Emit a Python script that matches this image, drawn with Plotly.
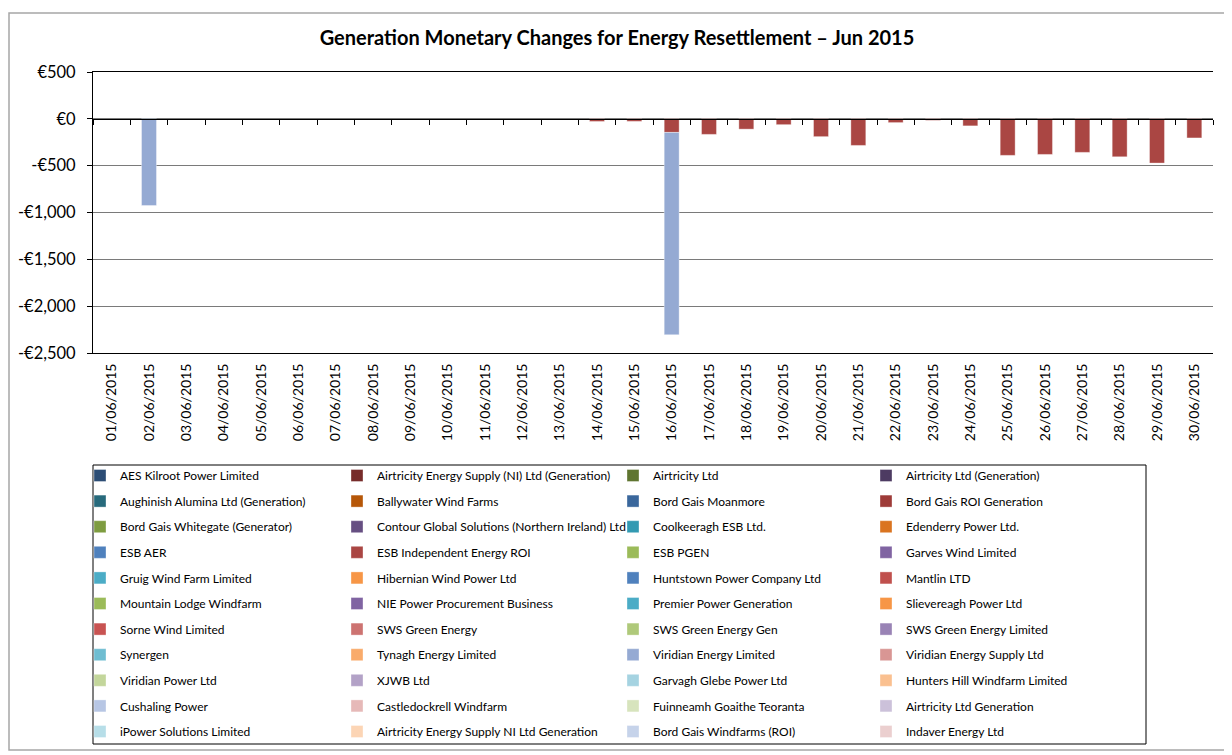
import plotly.graph_objects as go

# ---------------- data ----------------
dates = ["%02d/06/2015" % d for d in range(1, 31)]

series_names = [
    "AES Kilroot Power Limited", "Airtricity Energy Supply (NI) Ltd (Generation)", "Airtricity Ltd", "Airtricity Ltd (Generation)",
    "Aughinish Alumina Ltd (Generation)", "Ballywater Wind Farms", "Bord Gais Moanmore", "Bord Gais ROI Generation",
    "Bord Gais Whitegate (Generator)", "Contour Global Solutions (Northern Ireland) Ltd", "Coolkeeragh ESB Ltd.", "Edenderry Power Ltd.",
    "ESB AER", "ESB Independent Energy ROI", "ESB PGEN", "Garves Wind Limited",
    "Gruig Wind Farm Limited", "Hibernian Wind Power Ltd", "Huntstown Power Company Ltd", "Mantlin LTD",
    "Mountain Lodge Windfarm", "NIE Power Procurement Business", "Premier Power Generation", "Slievereagh Power Ltd",
    "Sorne Wind Limited", "SWS Green Energy", "SWS Green Energy Gen", "SWS Green Energy Limited",
    "Synergen", "Tynagh Energy Limited", "Viridian Energy Limited", "Viridian Energy Supply Ltd",
    "Viridian Power Ltd", "XJWB Ltd", "Garvagh Glebe Power Ltd", "Hunters Hill Windfarm Limited",
    "Cushaling Power", "Castledockrell Windfarm", "Fuinneamh Goaithe Teoranta", "Airtricity Ltd Generation",
    "iPower Solutions Limited", "Airtricity Energy Supply NI Ltd Generation", "Bord Gais Windfarms (ROI)", "Indaver Energy Ltd",
]

series_colors = [
    "#2C4D75", "#772C2A", "#5F7530", "#4D3B62",
    "#276A7C", "#B65708", "#3A679C", "#9E3B38",
    "#7E9C40", "#664F82", "#339AB2", "#DA7420",
    "#4F81BD", "#AA4643", "#9BBB59", "#8064A2",
    "#4BACC6", "#F79646", "#4F81BD", "#C0504D",
    "#9BBB59", "#8064A2", "#4BACC6", "#F79646",
    "#C85352", "#CD7371", "#AFC97A", "#9983B5",
    "#6FBDD1", "#F9AB6B", "#95AAD3", "#D99694",
    "#C3D69B", "#B3A2C7", "#A5D3E1", "#FAC090",
    "#B7C6E4", "#E6B9B8", "#D7E4BD", "#CCC1DA",
    "#B7DEE8", "#FCD5B5", "#C6D3EA", "#EBCFCF",
]

# values (EUR); None = no value
esb_independent_energy_roi = [None, None, None, None, None, None, None, None, None, None,
                              None, None, None, -28, -27, -145, -166, -110, -62, -190,
                              -284, -40, -16, -75, -390, -380, -358, -405, -472, -204]
viridian_energy_limited = [None, -925, None, None, None, None, None, None, None, None,
                           None, None, None, None, None, -2160, None, None, None, None,
                           None, None, None, None, None, None, None, None, None, None]

series_values = {
    "ESB Independent Energy ROI": esb_independent_energy_roi,
    "Viridian Energy Limited": viridian_energy_limited,
}

y_tick_vals = [500, 0, -500, -1000, -1500, -2000, -2500]
y_tick_text = ["€500", "€0", "-€500", "-€1,000", "-€1,500", "-€2,000", "-€2,500"]

title_text = "Generation Monetary Changes for Energy Resettlement – Jun 2015"

# ---------------- layout geometry ----------------
# the page body has an 8px margin, so the figure is drawn 8px smaller and shifted
OFF = 8
W, H = 1232 - OFF, 755 - OFF
L, T = 93 - OFF, 72 - OFF
R = W - (1213 - OFF)
B = H - (353 - OFF)
PW, PH = W - L - R, H - T - B


def px_x(px):  # reference-screen x -> paper
    return (px - OFF - L) / PW


def px_y(py):  # reference-screen y -> paper
    return (H - B - (py - OFF)) / PH


FONT = "Lato"
legend_cols_center = [100, 357, 633, 886]
legend_top_px = 461

fig = go.Figure()

for i, (name, color) in enumerate(zip(series_names, series_colors)):
    vals = series_values.get(name, [None] * len(dates))
    col = i % 4
    fig.add_trace(go.Bar(
        x=dates, y=vals, name=name,
        marker=dict(color=color, line=dict(color="rgba(255,255,255,0.35)", width=1)),
        legend="legend" if col == 0 else "legend%d" % (col + 1),
        legendgroup=name,
    ))

# helper trace for the category axis crossing at zero
fig.add_trace(go.Scatter(x=dates, y=[None] * len(dates), xaxis="x2", showlegend=False,
                         hoverinfo="skip", mode="markers"))

legend_common = dict(
    orientation="v", xanchor="left", yanchor="top",
    font=dict(family=FONT, size=12, color="#000000"),
    bgcolor="rgba(0,0,0,0)", borderwidth=0, tracegroupgap=6.6,
    itemclick=False, itemdoubleclick=False,
)
legends = {}
for k, cx in enumerate(legend_cols_center):
    key = "legend" if k == 0 else "legend%d" % (k + 1)
    legends[key] = dict(legend_common, x=px_x(cx - 20), y=px_y(legend_top_px))

fig.update_layout(
    width=W, height=H,
    margin=dict(l=L, r=R, t=T, b=B, autoexpand=False),
    paper_bgcolor="white", plot_bgcolor="white",
    barmode="relative", bargap=0.6,
    font=dict(family=FONT, color="#000000"),
    title=dict(text="<b>" + title_text + "</b>", x=(617 - OFF) / W, xanchor="center",
               y=1 - (38 - OFF) / H, yanchor="middle", font=dict(family=FONT, size=20, color="#000000")),
    xaxis=dict(type="category", categoryorder="array", categoryarray=dates, range=[-0.5, 29.5],
               tickangle=-90, tickfont=dict(family=FONT, size=14), ticks="", ticklabelstandoff=4,
               showline=True, linecolor="#000000", linewidth=1, mirror=True, showgrid=False,
               fixedrange=True),
    xaxis2=dict(type="category", categoryorder="array", categoryarray=dates, range=[-0.5, 29.5],
                overlaying="x", anchor="free", position=2500 / 3000, side="bottom",
                showline=True, linecolor="#000000", linewidth=1,
                ticks="outside", tickson="boundaries", ticklen=5, tickcolor="#000000",
                showticklabels=False, showgrid=False, fixedrange=True),
    yaxis=dict(range=[-2500, 500], tickvals=y_tick_vals, ticktext=y_tick_text,
               tickfont=dict(family=FONT, size=16.5), ticks="outside", ticklen=5, tickcolor="#000000",
               ticklabelstandoff=8,
               showline=True, linecolor="#000000", linewidth=1,
               showgrid=True, gridcolor="#7a7a7a", gridwidth=1, zeroline=False, fixedrange=True),
    showlegend=True,
    **legends,
)

# legend frame, chart-area frame
fig.add_shape(type="rect", xref="paper", yref="paper",
              x0=px_x(93), x1=px_x(1146), y0=px_y(744), y1=px_y(465),
              line=dict(color="#000000", width=1), layer="below")
fig.add_shape(type="rect", xref="paper", yref="paper",
              x0=px_x(9), x1=px_x(1226), y0=px_y(750), y1=px_y(13),
              line=dict(color="#A6A6A6", width=1.5), layer="below")

fig.write_html("out.html")
